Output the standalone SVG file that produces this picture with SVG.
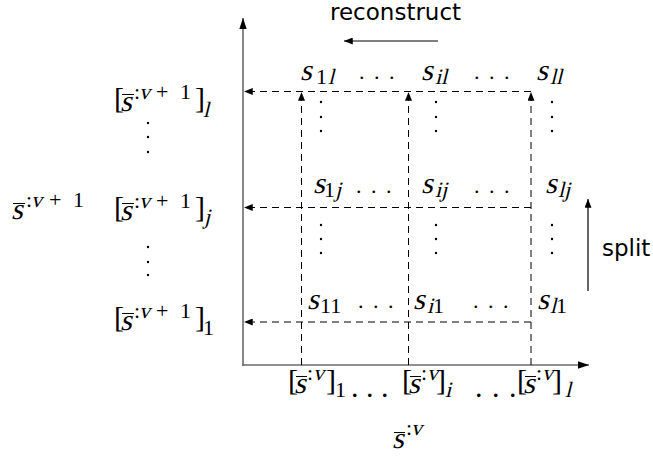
<svg xmlns="http://www.w3.org/2000/svg" width="653" height="457" viewBox="0 0 653 457">
<style>
.m{font-family:"Liberation Serif",serif;font-size:30px;fill:#000}
.sc{font-size:22px}
.hd{font-size:22px;letter-spacing:2px}
.sans{font-family:"DejaVu Sans",sans-serif;font-size:23px;fill:#000}
.dash{stroke:#000;stroke-width:1;stroke-dasharray:7 5;fill:none}
.axis{stroke:#6b6b6b;stroke-width:1.6;fill:none}
.ob{stroke:#000;stroke-width:1}
.vd{fill:#000}
</style>
<defs>
<marker id="ah" viewBox="0 0 10 8" markerWidth="9" markerHeight="7" refX="10" refY="4" orient="auto" markerUnits="userSpaceOnUse"><path d="M0,0 L10,4 L0,8 z" fill="#000"/></marker>
<marker id="ax" viewBox="0 0 12 8" markerWidth="11" markerHeight="8" refX="12" refY="4" orient="auto" markerUnits="userSpaceOnUse"><path d="M0,0 L12,4 L0,8 z" fill="#000"/></marker>
</defs>

<g id="connectors">
<line class="axis" x1="243" y1="366" x2="243" y2="18" marker-end="url(#ax)"/>
<line class="axis" x1="242" y1="365" x2="589" y2="365" marker-end="url(#ax)"/>
<line class="dash" x1="531" y1="91.5" x2="244" y2="91.5" marker-end="url(#ah)"/>
<line class="dash" x1="531" y1="207.5" x2="244" y2="207.5" marker-end="url(#ah)"/>
<line class="dash" x1="531" y1="322" x2="244" y2="322" marker-end="url(#ah)"/>
<line class="dash" x1="301.5" y1="365" x2="301.5" y2="92" marker-end="url(#ah)"/>
<line class="dash" x1="408.5" y1="365" x2="408.5" y2="92" marker-end="url(#ah)"/>
<line class="dash" x1="531" y1="365" x2="531" y2="92" marker-end="url(#ah)"/>
<line x1="438" y1="41" x2="344" y2="41" stroke="#555" stroke-width="1.6" marker-end="url(#ah)"/>
<line x1="588" y1="291" x2="588" y2="199" stroke="#000" stroke-width="1.2" marker-end="url(#ah)"/>
</g>

<g id="reconstruct"><text class="sans" x="330" y="20">reconstruct</text></g>
<g id="split"><text class="sans" x="602" y="256">split</text></g>

<g id="s1l">
<text class="m" transform="translate(300,80) skewX(-14)">s</text>
<text class="m sc" x="316" y="84">1</text>
<text class="m sc" transform="translate(328,84) skewX(-14)">l</text>
</g>
<g id="dots-l1"><text class="m hd" x="359" y="79">. . .</text></g>
<g id="sil">
<text class="m" transform="translate(421,80) skewX(-14)">s</text>
<text class="m sc" transform="translate(435,84) skewX(-14)">il</text>
</g>
<g id="dots-l2"><text class="m hd" x="474" y="79">. . .</text></g>
<g id="sll">
<text class="m" transform="translate(536,80) skewX(-14)">s</text>
<text class="m sc" transform="translate(550,84) skewX(-14)">ll</text>
</g>

<g id="s1j">
<text class="m" transform="translate(313,193) skewX(-14)">s</text>
<text class="m sc" x="324" y="197">1</text>
<text class="m sc" transform="translate(335,197) skewX(-14)">j</text>
</g>
<g id="dots-j1"><text class="m hd" x="356" y="193">. . .</text></g>
<g id="sij">
<text class="m" transform="translate(421,193) skewX(-14)">s</text>
<text class="m sc" transform="translate(435,197) skewX(-14)">ij</text>
</g>
<g id="dots-j2"><text class="m hd" x="474" y="193">. . .</text></g>
<g id="slj">
<text class="m" transform="translate(545,193) skewX(-14)">s</text>
<text class="m sc" transform="translate(558,197) skewX(-14)">lj</text>
</g>

<g id="s11">
<text class="m" transform="translate(307,309) skewX(-14)">s</text>
<text class="m sc" x="320" y="313">11</text>
</g>
<g id="dots-11"><text class="m hd" x="358" y="308">. . .</text></g>
<g id="si1">
<text class="m" transform="translate(413,309) skewX(-14)">s</text>
<text class="m sc" transform="translate(427,313) skewX(-14)">i</text>
<text class="m sc" x="433" y="313">1</text>
</g>
<g id="dots-12"><text class="m hd" x="473" y="308">. . .</text></g>
<g id="sl1">
<text class="m" transform="translate(537,309) skewX(-14)">s</text>
<text class="m sc" transform="translate(550,313) skewX(-14)">l</text>
<text class="m sc" x="556" y="313">1</text>
</g>

<g id="vdots">
<circle class="vd" cx="321" cy="102" r="1.2"/><circle class="vd" cx="321" cy="117" r="1.2"/><circle class="vd" cx="321" cy="131" r="1.2"/>
<circle class="vd" cx="436" cy="102" r="1.2"/><circle class="vd" cx="436" cy="117" r="1.2"/><circle class="vd" cx="436" cy="131" r="1.2"/>
<circle class="vd" cx="552" cy="102" r="1.2"/><circle class="vd" cx="552" cy="117" r="1.2"/><circle class="vd" cx="552" cy="131" r="1.2"/>
<circle class="vd" cx="321" cy="225" r="1.2"/><circle class="vd" cx="321" cy="239" r="1.2"/><circle class="vd" cx="321" cy="253" r="1.2"/>
<circle class="vd" cx="436" cy="225" r="1.2"/><circle class="vd" cx="436" cy="239" r="1.2"/><circle class="vd" cx="436" cy="253" r="1.2"/>
<circle class="vd" cx="552" cy="225" r="1.2"/><circle class="vd" cx="552" cy="239" r="1.2"/><circle class="vd" cx="552" cy="253" r="1.2"/>
<circle class="vd" cx="148" cy="123" r="1.2"/><circle class="vd" cx="148" cy="137" r="1.2"/><circle class="vd" cx="148" cy="152" r="1.2"/>
<circle class="vd" cx="148" cy="247" r="1.2"/><circle class="vd" cx="148" cy="262" r="1.2"/><circle class="vd" cx="148" cy="275" r="1.2"/>
</g>

<g id="left-l">
<text class="m" x="114" y="108">[</text>
<text class="m" transform="translate(120,111) skewX(-14)">s</text>
<line class="ob" x1="122" y1="94.5" x2="134" y2="94.5"/>
<text class="m sc" x="134" y="99">:</text>
<text class="m sc" transform="translate(139,99) skewX(-14)">v</text>
<text class="m sc" x="156" y="99">+</text>
<text class="m sc" x="180" y="99">1</text>
<text class="m" x="195" y="108">]</text>
<text class="m sc" transform="translate(203,117) skewX(-14)">l</text>
</g>
<g id="left-j">
<text class="m" x="114" y="217">[</text>
<text class="m" transform="translate(120,220) skewX(-14)">s</text>
<line class="ob" x1="122" y1="203.5" x2="134" y2="203.5"/>
<text class="m sc" x="134" y="208">:</text>
<text class="m sc" transform="translate(139,208) skewX(-14)">v</text>
<text class="m sc" x="156" y="208">+</text>
<text class="m sc" x="180" y="208">1</text>
<text class="m" x="195" y="217">]</text>
<text class="m sc" transform="translate(204,224) skewX(-14)">j</text>
</g>
<g id="left-1">
<text class="m" x="114" y="327">[</text>
<text class="m" transform="translate(120,330) skewX(-14)">s</text>
<line class="ob" x1="122" y1="313.5" x2="134" y2="313.5"/>
<text class="m sc" x="134" y="318">:</text>
<text class="m sc" transform="translate(139,318) skewX(-14)">v</text>
<text class="m sc" x="156" y="318">+</text>
<text class="m sc" x="180" y="318">1</text>
<text class="m" x="195" y="327">]</text>
<text class="m sc" x="203" y="335">1</text>
</g>
<g id="left-title">
<text class="m" transform="translate(11,219) skewX(-14)">s</text>
<line class="ob" x1="13" y1="203.5" x2="25" y2="203.5"/>
<text class="m sc" x="26" y="207">:</text>
<text class="m sc" transform="translate(31,207) skewX(-14)">v</text>
<text class="m sc" x="49" y="207">+</text>
<text class="m sc" x="73" y="207">1</text>
</g>

<g id="bottom-1">
<text class="m" x="288" y="390">[</text>
<text class="m" transform="translate(294,393) skewX(-14)">s</text>
<line class="ob" x1="296" y1="376.5" x2="307" y2="376.5"/>
<text class="m sc" x="307" y="380">:</text>
<text class="m sc" transform="translate(313,380) skewX(-14)">v</text>
<text class="m" x="326" y="390">]</text>
<text class="m sc" x="335" y="397">1</text>
<text class="m" x="351" y="397" font-size="20">. . .</text>
</g>
<g id="bottom-i">
<text class="m" x="402" y="390">[</text>
<text class="m" transform="translate(408,393) skewX(-14)">s</text>
<line class="ob" x1="410" y1="376.5" x2="421" y2="376.5"/>
<text class="m sc" x="421" y="380">:</text>
<text class="m sc" transform="translate(427,380) skewX(-14)">v</text>
<text class="m" x="436" y="390">]</text>
<text class="m sc" transform="translate(445,397) skewX(-14)">i</text>
<text class="m" x="475" y="397" font-size="22" letter-spacing="1">. . .</text>
</g>
<g id="bottom-l">
<text class="m" x="517" y="390">[</text>
<text class="m" transform="translate(523,393) skewX(-14)">s</text>
<line class="ob" x1="525" y1="376.5" x2="536" y2="376.5"/>
<text class="m sc" x="536" y="380">:</text>
<text class="m sc" transform="translate(542,380) skewX(-14)">v</text>
<text class="m" x="552" y="390">]</text>
<text class="m sc" transform="translate(565,397) skewX(-14)">l</text>
</g>
<g id="bottom-title">
<text class="m" transform="translate(392,448) skewX(-14)">s</text>
<line class="ob" x1="394" y1="432.5" x2="405" y2="432.5"/>
<text class="m sc" x="406" y="435">:</text>
<text class="m sc" transform="translate(411,435) skewX(-14)">v</text>
</g>
</svg>
